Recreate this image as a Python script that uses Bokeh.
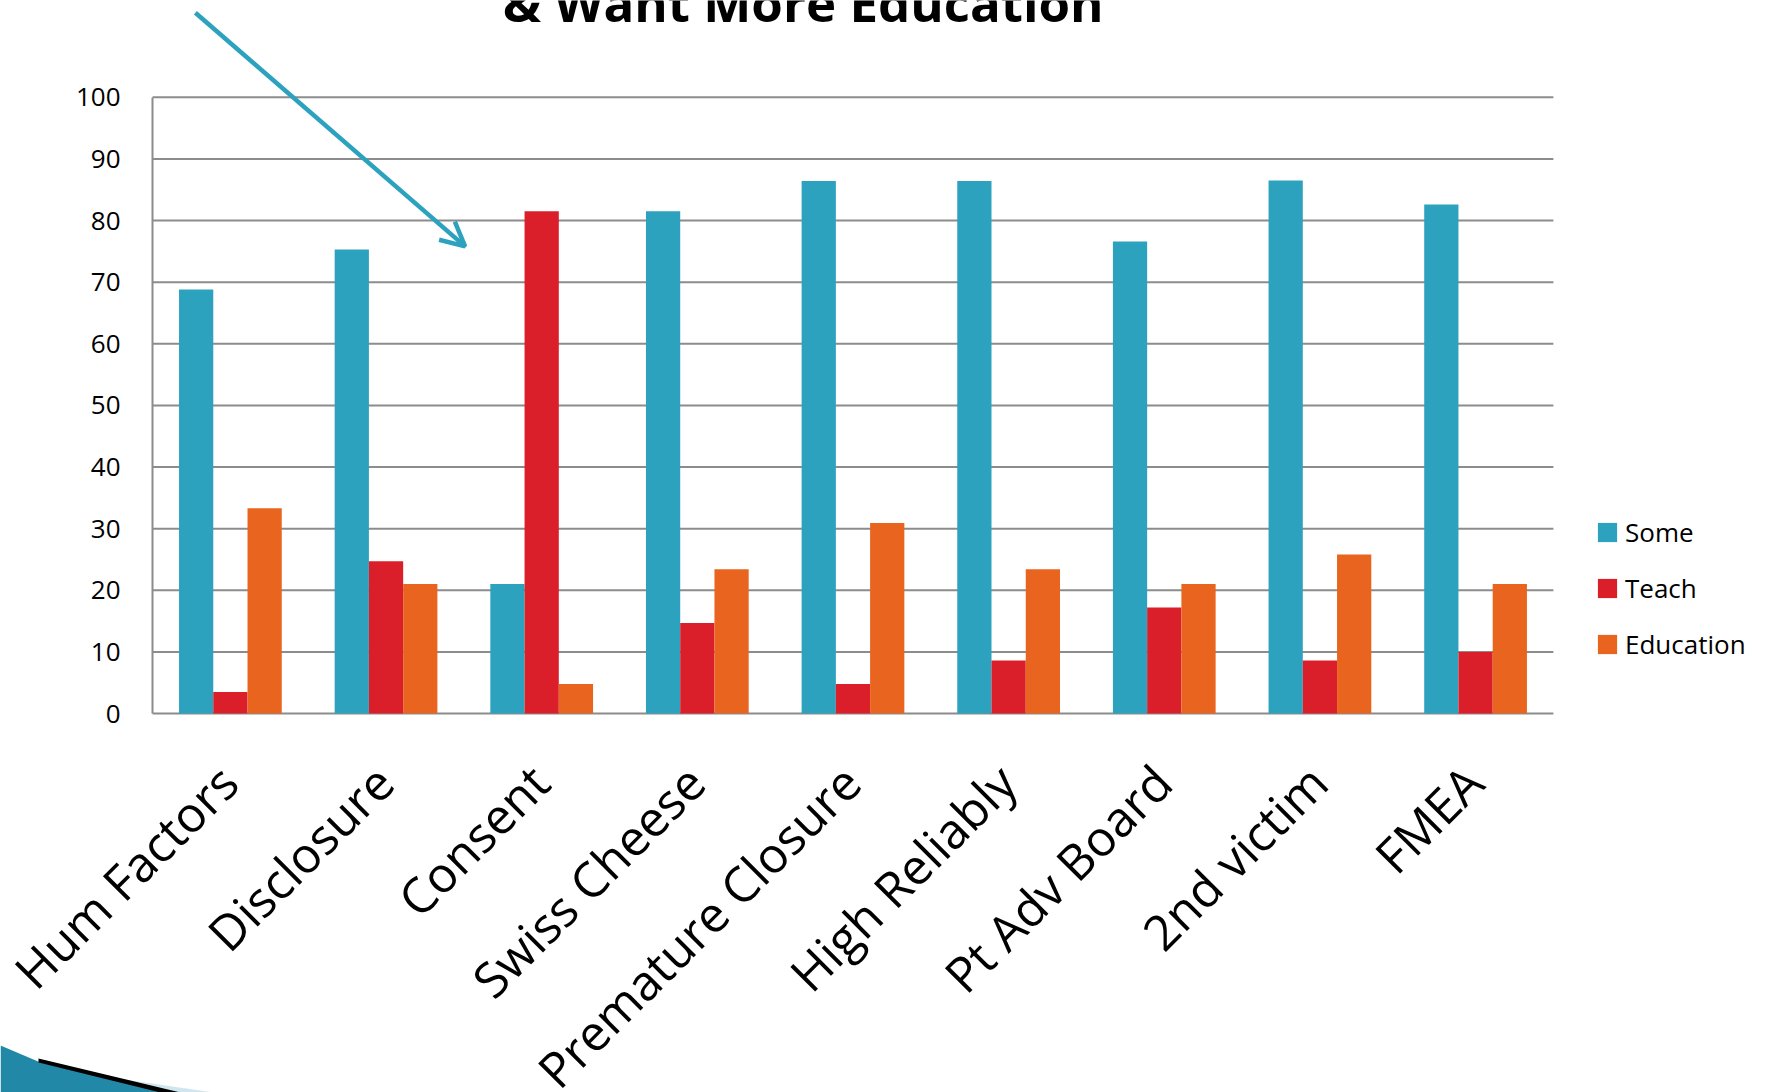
import math

from bokeh.embed import file_html
from bokeh.resources import INLINE
from bokeh.plotting import figure
from bokeh.core.properties import value
from bokeh.models import (ColumnDataSource, Range1d, FixedTicker, Legend, LegendItem,
                          Label, Arrow, OpenHead, PolyAnnotation)
from bokeh.transform import dodge

# ---- data -------------------------------------------------------------
categories = ["Hum Factors", "Disclosure", "Consent", "Swiss Cheese",
              "Premature Closure", "High Reliably", "Pt Adv Board",
              "2nd victim", "FMEA"]
some = [68.8, 75.3, 21.0, 81.5, 86.4, 86.4, 76.6, 86.5, 82.6]
teach = [3.5, 24.7, 81.5, 14.7, 4.8, 8.6, 17.2, 8.6, 10.0]
education = [33.3, 21.0, 4.8, 23.4, 30.9, 23.4, 21.0, 25.8, 21.0]
y_ticks = [0, 10, 20, 30, 40, 50, 60, 70, 80, 90, 100]
title_text = "& Want More Education"

# ---- styling ----------------------------------------------------------
C_SOME = "#2ca2bf"
C_TEACH = "#da1f2a"
C_EDU = "#e9651f"
C_GRID = "#8c8c8c"
FONT = "Open Sans"
BAR_W = 0.22

W, H = 1768, 1092
n = len(categories)

# one category slot per unit; the drawing area spans the whole canvas
source = ColumnDataSource(dict(cat=categories, xpos=[i + 0.5 for i in range(n)],
                               some=some, teach=teach, edu=education))
grid_src = ColumnDataSource(dict(y=y_ticks, x0=[0] * len(y_ticks), x1=[n] * len(y_ticks)))

p = figure(width=W, height=H, x_range=Range1d(-0.977, n + 1.382),
           y_range=Range1d(-61.5, 115.7), output_backend="svg",
           toolbar_location=None, min_border=0)
p.outline_line_color = None
p.background_fill_color = "white"
p.border_fill_color = "white"
p.xgrid.visible = False
p.ygrid.visible = False
p.xaxis.visible = False

# horizontal value lines 0..100 (the 0 line doubles as the baseline)
p.segment(x0="x0", x1="x1", y0="y", y1="y", source=grid_src,
          line_color=C_GRID, line_width=2)

r_some = p.vbar(x=dodge("xpos", -BAR_W), top="some", width=BAR_W,
                source=source, fill_color=C_SOME, line_color=None)
r_teach = p.vbar(x=dodge("xpos", 0.0), top="teach", width=BAR_W,
                 source=source, fill_color=C_TEACH, line_color=None)
r_edu = p.vbar(x=dodge("xpos", BAR_W), top="edu", width=BAR_W,
               source=source, fill_color=C_EDU, line_color=None)

# value axis pinned to the left edge of the first group
yax = p.yaxis[0]
yax.fixed_location = 0
yax.ticker = FixedTicker(ticks=y_ticks)
yax.bounds = (0, 100)
yax.axis_line_color = C_GRID
yax.axis_line_width = 2
yax.major_tick_line_color = None
yax.minor_tick_line_color = None
yax.major_tick_in = 0
yax.major_tick_out = 0
yax.major_label_standoff = 32
yax.major_label_text_font = FONT
yax.major_label_text_font_size = "26px"
yax.major_label_text_color = "black"

# slanted category names under each group
p.text(x="xpos", y=-9.7, text="cat", source=source, angle=math.pi / 4,
       x_offset=-2, text_align="right", text_baseline="middle",
       text_font=value(FONT), text_font_size="49px", text_color="black")

# legend to the right of the bars
legend = Legend(items=[LegendItem(label="Some", renderers=[r_some]),
                       LegendItem(label="Teach", renderers=[r_teach]),
                       LegendItem(label="Education", renderers=[r_edu])],
                location=(1595, 430), orientation="vertical",
                glyph_width=24, glyph_height=24, label_standoff=6, spacing=20,
                padding=0, margin=0, border_line_color=None,
                background_fill_alpha=0, label_text_font=FONT,
                label_text_font_size="26px", label_text_color="black")
p.add_layout(legend, "center")

# heading, partly running off the top edge
p.add_layout(Label(x=4.18, y=115.4, text=title_text, text_align="center",
                   text_baseline="alphabetic", text_font=FONT,
                   text_font_style="bold", text_font_size="51px", text_color="black"))

# pointer toward the Consent group
p.add_layout(Arrow(x_start=0.275, y_start=113.7, x_end=2.008, y_end=75.8,
                   line_color=C_SOME, line_width=4.5,
                   end=OpenHead(size=24, line_color=C_SOME, line_width=4.5)))

# slide-corner swoosh ornament (canvas pixels)
p.add_layout(PolyAnnotation(xs=[0, 40, 165, 0], ys=[1045, 1062, 1092, 1092],
                            xs_units="canvas", ys_units="canvas",
                            fill_color="#2189a7", fill_alpha=1, line_color=None))
p.add_layout(PolyAnnotation(xs=[90, 213, 178], ys=[1074, 1092, 1092],
                            xs_units="canvas", ys_units="canvas",
                            fill_color="#cfe6ee", fill_alpha=1, line_color=None))
p.add_layout(PolyAnnotation(xs=[38, 180, 160, 38], ys=[1058, 1092, 1092, 1062],
                            xs_units="canvas", ys_units="canvas",
                            fill_color="black", fill_alpha=1, line_color=None))

open("out.html", "w").write(file_html(p, INLINE))
